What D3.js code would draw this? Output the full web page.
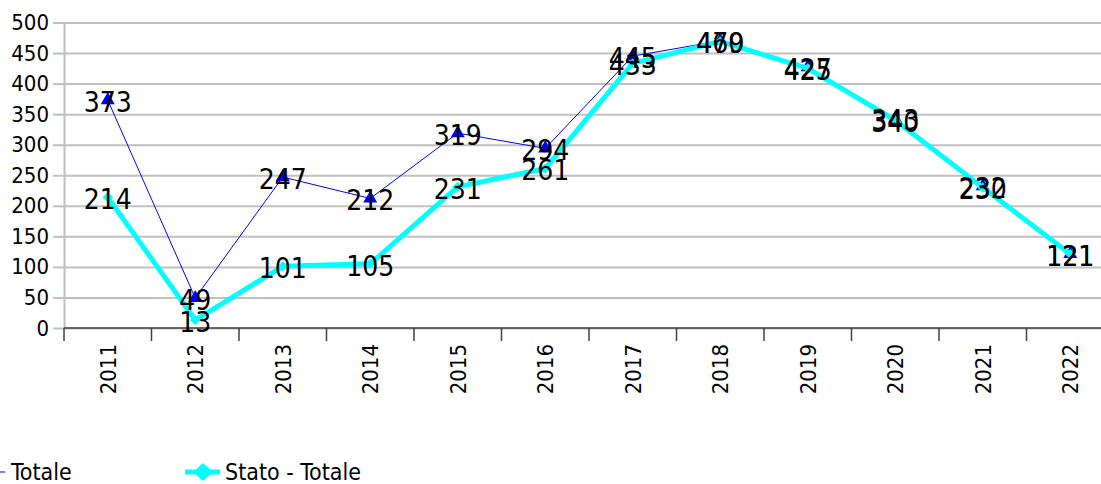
<!DOCTYPE html>
<html>
<head>
<meta charset="utf-8">
<script src="https://cdn.jsdelivr.net/npm/d3@7"></script>
<style>
  body { margin: 0; background: #fff; }
  svg { display: block; font-family: "DejaVu Sans Condensed", "DejaVu Sans", sans-serif; }
</style>
</head>
<body>
<svg id="chart" width="1101" height="484"></svg>
<script>
const years = ["2011", "2012", "2013", "2014", "2015", "2016", "2017", "2018", "2019", "2020", "2021", "2022"];
const totale = [373, 49, 247, 212, 319, 294, 445, 470, 427, 343, 232, 121];
const statoTotale = [214, 13, 101, 105, 231, 261, 433, 469, 425, 340, 230, 121];
const yTicks = [0, 50, 100, 150, 200, 250, 300, 350, 400, 450, 500];

const svg = d3.select("#chart");
const width = +svg.attr("width");
const height = +svg.attr("height");
const margin = { top: 22.5, left: 64, bottom: 156 };
const plotRight = 1114; // plot runs past the right edge of the picture

const x = d3.scaleBand()
  .domain(years)
  .range([margin.left, plotRight]);

const y = d3.scaleLinear()
  .domain([0, 500])
  .range([height - margin.bottom, margin.top]);

// grid lines
svg.append("g")
  .attr("transform", `translate(${margin.left},0)`)
  .call(d3.axisLeft(y).tickValues(yTicks).tickSize(-(plotRight - margin.left)).tickSizeOuter(0).tickFormat(""))
  .call(g => g.select(".domain").remove())
  .call(g => g.selectAll("line").attr("stroke", "#c0c0c0").attr("stroke-width", 2));

// y axis
svg.append("g")
  .attr("transform", `translate(${margin.left},0)`)
  .call(d3.axisLeft(y).tickValues(yTicks).tickSize(11).tickPadding(4).tickSizeOuter(0))
  .call(g => g.select(".domain").attr("stroke", "#c0c0c0").attr("stroke-width", 2))
  .call(g => g.selectAll("line").attr("stroke", "#c0c0c0").attr("stroke-width", 2))
  .call(g => g.selectAll("text")
    .attr("font-family", "DejaVu Sans Condensed, DejaVu Sans, sans-serif")
    .attr("font-size", "22px")
    .attr("fill", "#000"));

// x axis with ticks between categories
const xAxis = svg.append("g")
  .attr("transform", `translate(0,${y(0)})`);

xAxis.append("line")
  .attr("x1", margin.left).attr("x2", plotRight)
  .attr("stroke", "#404040").attr("stroke-width", 1.5);

xAxis.selectAll(".xtick")
  .data(years)
  .enter()
  .append("line")
    .attr("x1", d => x(d))
    .attr("x2", d => x(d))
    .attr("y1", 0)
    .attr("y2", 13)
    .attr("stroke", "#404040")
    .attr("stroke-width", 1.5);

xAxis.selectAll(".xlabel")
  .data(years)
  .enter()
  .append("text")
    .attr("transform", d => `translate(${x(d) + x.bandwidth() / 2},16) rotate(-90)`)
    .attr("text-anchor", "end")
    .attr("dy", "0.36em")
    .attr("font-size", "22px")
    .text(d => d);

const cx = (d, i) => x(years[i]) + x.bandwidth() / 2;
const line = d3.line().x(cx).y(d => y(d));
const diamondPath = (w, h) => `M0,${-h / 2}L${w / 2},0L0,${h / 2}L${-w / 2},0Z`;

// Totale line
svg.append("path")
  .datum(totale)
  .attr("fill", "none")
  .attr("stroke", "#0000ff")
  .attr("stroke-width", 1)
  .attr("d", line);

const triangle = d3.symbol().type(d3.symbolTriangle).size(85);
svg.selectAll(".tri")
  .data(totale)
  .enter()
  .append("path")
    .attr("transform", (d, i) => `translate(${cx(d, i)},${y(d)})`)
    .attr("d", triangle)
    .attr("fill", "#0000ff");

// Stato - Totale line
svg.append("path")
  .datum(statoTotale)
  .attr("fill", "none")
  .attr("stroke", "#00ffff")
  .attr("stroke-width", 5)
  .attr("stroke-linejoin", "round")
  .attr("d", line);

svg.selectAll(".dia")
  .data(statoTotale)
  .enter()
  .append("path")
    .attr("transform", (d, i) => `translate(${cx(d, i)},${y(d)})`)
    .attr("d", diamondPath(11, 10))
    .attr("fill", "#00ffff");

// data labels
[totale, statoTotale].forEach(series => {
  svg.selectAll(null)
    .data(series)
    .enter()
    .append("text")
      .attr("x", (d, i) => cx(d, i))
      .attr("y", d => y(d))
      .attr("dy", "0.42em")
      .attr("text-anchor", "middle")
      .attr("font-size", "28px")
      .attr("fill", "#000")
      .text(d => d);
});

// legend
const legendY = 472;
const legend = svg.append("g");

legend.append("line")
  .attr("x1", -30).attr("x2", 5)
  .attr("y1", legendY).attr("y2", legendY)
  .attr("stroke", "#0000ff").attr("stroke-width", 1);
legend.append("text")
  .attr("x", 11).attr("y", legendY)
  .attr("dy", "0.36em")
  .attr("font-size", "23px")
  .text("Totale");

legend.append("line")
  .attr("x1", 185).attr("x2", 220)
  .attr("y1", legendY).attr("y2", legendY)
  .attr("stroke", "#00ffff").attr("stroke-width", 5);
legend.append("path")
  .attr("transform", `translate(203,${legendY})`)
  .attr("d", diamondPath(20, 18))
  .attr("fill", "#00ffff");
legend.append("text")
  .attr("x", 225).attr("y", legendY)
  .attr("dy", "0.36em")
  .attr("font-size", "23px")
  .text("Stato - Totale");
</script>
</body>
</html>
